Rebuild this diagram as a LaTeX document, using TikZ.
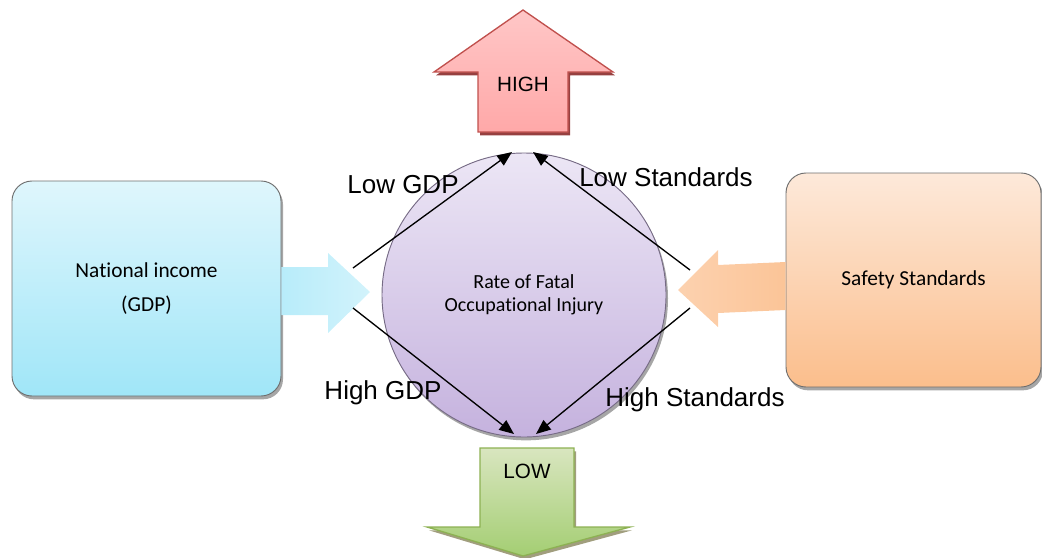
\documentclass[tikz,border=0pt]{standalone}
\usepackage{fontspec}
\setmainfont{Liberation Sans}
\newfontfamily\calfont[Ligatures={NoCommon}]{Carlito}
\usetikzlibrary{arrows.meta,shadows,calc}

\definecolor{boxline}{HTML}{6E6E6E}
\definecolor{cyanTop}{HTML}{DFF6FC}
\definecolor{cyanBot}{HTML}{A0E6F8}
\definecolor{orTop}{HTML}{FDE9DA}
\definecolor{orBot}{HTML}{FBBE8C}
\definecolor{violTop}{HTML}{ECE6F5}
\definecolor{violBot}{HTML}{C5B2DE}
\definecolor{redLine}{HTML}{C0504D}
\definecolor{greenLine}{HTML}{8DB153}

\tikzset{
  softshadow/.style={drop shadow={shadow xshift=1.5pt, shadow yshift=-2.5pt, fill=black, opacity=0.35}},
  factorbox/.style={draw=boxline, line width=0.7pt, rounded corners=15pt,
    minimum width=201.75pt, align=center, softshadow, font=\calfont\fontsize{16}{25.5}\selectfont},
  effect/.style={line width=1pt, -{Triangle[length=11pt,width=9pt]}},
  lbl/.style={font=\fontsize{19.5}{23}\selectfont},
  arrowlbl/.style={font=\fontsize{15.5}{18}\selectfont},
}

\begin{document}
\begin{tikzpicture}[x=0.75pt, y=-0.75pt]
\useasboundingbox (0,0) rectangle (1042,557);

% upward block arrow: high rate
\path[draw=redLine, line width=1pt, line join=miter,
      top color=red!22, middle color=red!11, bottom color=red!34,
      drop shadow={shadow xshift=1.5pt, shadow yshift=-2.5pt, fill=red!45!black, opacity=0.75}]
  (478,132) -- (478,72) -- (434,72) -- (523,10) -- (613,72) -- (568,72) -- (568,132) -- cycle;
\node[arrowlbl] (high) at (523,84) {HIGH};

% downward block arrow: low rate
\path[draw=greenLine, line width=1pt, line join=miter,
      top color=green!20!olive!25, bottom color=green!30!olive!55,
      drop shadow={shadow xshift=1.5pt, shadow yshift=-2.5pt, fill=olive!60!black, opacity=0.6}]
  (480,448) -- (574,448) -- (574,527) -- (630,527) -- (523,556) -- (427,527) -- (480,527) -- cycle;
\node[arrowlbl] (low) at (527,471) {LOW};

% central outcome
\node[circle, draw=violBot!60!black, line width=0.7pt, minimum size=213pt, inner sep=0pt,
      top color=violTop, bottom color=violBot, softshadow, align=center,
      font=\calfont\fontsize{15}{17.25}\selectfont] (rate) at (524,295)
  {Rate of Fatal\\Occupational Injury};

% the two factors
\node[factorbox, minimum height=161.25pt, top color=cyanTop, bottom color=cyanBot]
  (gdp) at (146.5,288.5) {National income\\(GDP)};
\node[factorbox, minimum height=160.5pt, minimum width=191.25pt, top color=orTop, bottom color=orBot]
  (safety) at (913.5,280) {Safety Standards};

% block arrows from the factors towards the circle
\path[left color=cyanBot!75, right color=cyanTop!80!cyanBot]
  (gdp.east |- 0,267) -- (328,267) -- (328,253) -- (370,292) -- (328,333) -- (328,315) -- (gdp.east |- 0,315) -- cycle;
\path[right color=orBot!85!orTop, left color=orBot!55!orTop]
  (safety.west |- 0,262) -- (718,265) -- (718,250) -- (678,290) -- (718,327) -- (718,313) -- (safety.west |- 0,310) -- cycle;

% effect connectors
\coordinate (gdpA) at (353,268);
\coordinate (gdpB) at (353,308);
\coordinate (stdA) at (690,270);
\coordinate (stdB) at (690,308);
\coordinate (hiL) at (512,152);
\coordinate (hiR) at (533,152);
\coordinate (loL) at (514,434);
\coordinate (loR) at (536,434);

\draw[effect] (gdpA) -- (hiL);
\draw[effect] (stdA) -- (hiR);
\draw[effect] (gdpB) -- (loL);
\draw[effect] (stdB) -- (loR);

\node[lbl] (lowgdp) at (403,185) {Low GDP};
\node[lbl] (lowstd) at (666,177) {Low Standards};
\node[lbl] (highgdp) at (383,393) {High GDP};
\node[lbl] (highstd) at (695,400) {High Standards};
\end{tikzpicture}
\end{document}
